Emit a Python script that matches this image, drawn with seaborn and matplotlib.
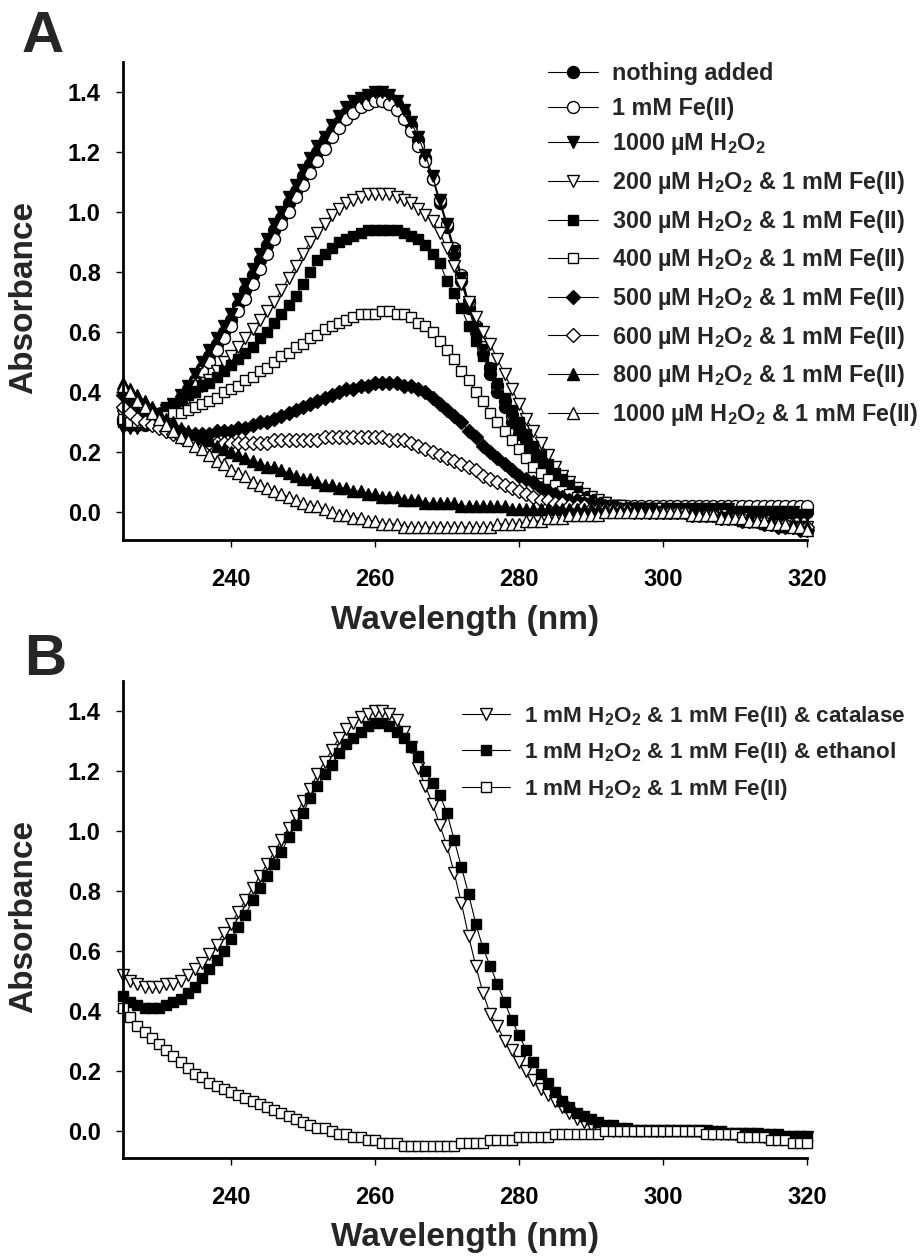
import numpy as np
import pandas as pd
import matplotlib
matplotlib.use("Agg")
import matplotlib.pyplot as plt
import seaborn as sns

# ---------------- data ----------------
wavelength = list(range(225, 321))

# Panel A
nothing_added = [
    0.30, 0.29, 0.29, 0.29, 0.30, 0.31, 0.33, 0.35, 0.38, 0.41,
    0.44, 0.48, 0.52, 0.56, 0.60, 0.64, 0.69, 0.74, 0.79, 0.84,
    0.89, 0.94, 0.98, 1.03, 1.07, 1.12, 1.16, 1.20, 1.24, 1.27,
    1.30, 1.33, 1.35, 1.37, 1.38, 1.39, 1.39, 1.38, 1.36, 1.33,
    1.29, 1.24, 1.18, 1.11, 1.03, 0.95, 0.86, 0.77, 0.68, 0.60,
    0.53, 0.46, 0.40, 0.35, 0.30, 0.26, 0.22, 0.19, 0.16, 0.13,
    0.11, 0.09, 0.07, 0.06, 0.05, 0.04, 0.03, 0.03, 0.02, 0.02,
    0.01, 0.01, 0.01, 0.01, 0.01, 0.01, 0.01, 0.01, 0.01, 0.01,
    0.01, 0.01, 0.01, 0.01, 0.01, 0.01, 0.01, 0.01, 0.01, 0.00,
    0.00, 0.00, 0.00, 0.00, 0.00, 0.00]
fe_1mM = [
    0.31, 0.30, 0.30, 0.30, 0.31, 0.32, 0.33, 0.35, 0.37, 0.40,
    0.43, 0.47, 0.50, 0.54, 0.58, 0.62, 0.67, 0.71, 0.76, 0.81,
    0.86, 0.91, 0.96, 1.00, 1.05, 1.09, 1.13, 1.17, 1.21, 1.25,
    1.28, 1.31, 1.33, 1.35, 1.36, 1.37, 1.37, 1.36, 1.34, 1.31,
    1.27, 1.22, 1.17, 1.11, 1.04, 0.96, 0.88, 0.79, 0.70, 0.62,
    0.55, 0.48, 0.42, 0.37, 0.32, 0.28, 0.24, 0.20, 0.17, 0.14,
    0.12, 0.10, 0.08, 0.06, 0.05, 0.04, 0.03, 0.03, 0.02, 0.02,
    0.02, 0.02, 0.02, 0.02, 0.02, 0.02, 0.02, 0.02, 0.02, 0.02,
    0.02, 0.02, 0.02, 0.02, 0.02, 0.02, 0.02, 0.02, 0.02, 0.02,
    0.02, 0.02, 0.02, 0.02, 0.02, 0.02]
h2o2_1000 = [
    0.28, 0.28, 0.28, 0.29, 0.30, 0.32, 0.34, 0.36, 0.39, 0.42,
    0.46, 0.50, 0.54, 0.58, 0.62, 0.66, 0.71, 0.76, 0.81, 0.86,
    0.91, 0.96, 1.00, 1.05, 1.09, 1.14, 1.18, 1.22, 1.25, 1.29,
    1.32, 1.35, 1.37, 1.38, 1.39, 1.40, 1.40, 1.39, 1.37, 1.34,
    1.30, 1.25, 1.19, 1.12, 1.04, 0.96, 0.87, 0.78, 0.69, 0.61,
    0.54, 0.47, 0.41, 0.35, 0.31, 0.26, 0.22, 0.19, 0.16, 0.13,
    0.11, 0.09, 0.07, 0.06, 0.05, 0.04, 0.03, 0.03, 0.02, 0.02,
    0.01, 0.01, 0.01, 0.01, 0.01, 0.01, 0.01, 0.01, 0.01, 0.01,
    0.01, 0.01, 0.01, 0.01, 0.01, 0.00, 0.00, 0.00, 0.00, 0.00,
    0.00, 0.00, 0.00, 0.00, -0.01, -0.01]
h200_fe = [
    0.32, 0.31, 0.31, 0.31, 0.31, 0.32, 0.33, 0.34, 0.36, 0.38,
    0.40, 0.42, 0.44, 0.47, 0.50, 0.52, 0.55, 0.58, 0.61, 0.64,
    0.67, 0.70, 0.74, 0.78, 0.82, 0.86, 0.90, 0.93, 0.96, 0.99,
    1.01, 1.03, 1.04, 1.05, 1.06, 1.06, 1.06, 1.06, 1.05, 1.04,
    1.03, 1.01, 0.99, 0.97, 0.93, 0.88, 0.82, 0.76, 0.70, 0.65,
    0.60, 0.56, 0.51, 0.46, 0.41, 0.36, 0.31, 0.27, 0.23, 0.19,
    0.15, 0.12, 0.10, 0.08, 0.06, 0.05, 0.04, 0.03, 0.02, 0.02,
    0.01, 0.01, 0.01, 0.01, 0.01, 0.00, 0.00, 0.00, 0.00, 0.00,
    -0.01, -0.01, -0.01, -0.01, -0.02, -0.02, -0.02, -0.03, -0.03, -0.03,
    -0.04, -0.04, -0.04, -0.05, -0.05, -0.05]
h300_fe = [
    0.30, 0.30, 0.30, 0.31, 0.32, 0.33, 0.35, 0.36, 0.37, 0.39,
    0.40, 0.42, 0.43, 0.45, 0.47, 0.49, 0.51, 0.53, 0.55, 0.58,
    0.60, 0.63, 0.66, 0.69, 0.72, 0.76, 0.80, 0.84, 0.86, 0.88,
    0.90, 0.91, 0.92, 0.93, 0.94, 0.94, 0.94, 0.94, 0.94, 0.93,
    0.92, 0.91, 0.89, 0.86, 0.83, 0.77, 0.73, 0.68, 0.62, 0.57,
    0.52, 0.48, 0.43, 0.38, 0.34, 0.30, 0.26, 0.22, 0.19, 0.16,
    0.13, 0.11, 0.09, 0.07, 0.05, 0.04, 0.03, 0.02, 0.02, 0.01,
    0.01, 0.01, 0.01, 0.01, 0.00, 0.00, 0.00, 0.00, 0.00, 0.00,
    -0.01, -0.01, -0.01, -0.02, -0.02, -0.02, -0.03, -0.03, -0.03, -0.04,
    -0.04, -0.04, -0.05, -0.05, -0.05, -0.06]
h400_fe = [
    0.31, 0.30, 0.30, 0.30, 0.31, 0.31, 0.32, 0.33, 0.33, 0.34,
    0.35, 0.36, 0.37, 0.38, 0.40, 0.41, 0.42, 0.44, 0.45, 0.47,
    0.48, 0.50, 0.52, 0.53, 0.55, 0.56, 0.58, 0.59, 0.61, 0.62,
    0.63, 0.64, 0.65, 0.66, 0.66, 0.66, 0.67, 0.67, 0.66, 0.66,
    0.65, 0.63, 0.62, 0.60, 0.57, 0.54, 0.51, 0.47, 0.44, 0.40,
    0.37, 0.33, 0.30, 0.27, 0.24, 0.21, 0.18, 0.15, 0.13, 0.11,
    0.09, 0.07, 0.06, 0.05, 0.04, 0.03, 0.02, 0.02, 0.01, 0.01,
    0.01, 0.01, 0.01, 0.00, 0.00, 0.00, 0.00, 0.00, 0.00, -0.01,
    -0.01, -0.01, -0.01, -0.02, -0.02, -0.02, -0.03, -0.03, -0.03, -0.04,
    -0.04, -0.04, -0.05, -0.05, -0.05, -0.06]
h500_fe = [
    0.39, 0.36, 0.33, 0.31, 0.30, 0.29, 0.28, 0.27, 0.27, 0.26,
    0.26, 0.26, 0.26, 0.27, 0.27, 0.27, 0.28, 0.28, 0.29, 0.30,
    0.30, 0.31, 0.32, 0.33, 0.34, 0.35, 0.36, 0.37, 0.38, 0.39,
    0.40, 0.41, 0.41, 0.42, 0.42, 0.43, 0.43, 0.43, 0.43, 0.42,
    0.42, 0.41, 0.40, 0.38, 0.36, 0.34, 0.32, 0.30, 0.27, 0.25,
    0.22, 0.20, 0.18, 0.16, 0.14, 0.12, 0.11, 0.10, 0.08, 0.07,
    0.06, 0.05, 0.04, 0.04, 0.03, 0.03, 0.02, 0.02, 0.01, 0.01,
    0.01, 0.01, 0.01, 0.00, 0.00, 0.00, 0.00, 0.00, 0.00, -0.01,
    -0.01, -0.01, -0.01, -0.02, -0.02, -0.02, -0.03, -0.03, -0.03, -0.04,
    -0.04, -0.05, -0.05, -0.05, -0.06, -0.06]
h600_fe = [
    0.35, 0.33, 0.31, 0.30, 0.29, 0.28, 0.27, 0.26, 0.25, 0.25,
    0.24, 0.24, 0.23, 0.23, 0.23, 0.23, 0.23, 0.23, 0.23, 0.23,
    0.23, 0.24, 0.24, 0.24, 0.24, 0.24, 0.24, 0.24, 0.25, 0.25,
    0.25, 0.25, 0.25, 0.25, 0.25, 0.25, 0.25, 0.24, 0.24, 0.24,
    0.23, 0.22, 0.21, 0.20, 0.19, 0.18, 0.17, 0.16, 0.15, 0.14,
    0.12, 0.11, 0.10, 0.09, 0.08, 0.07, 0.06, 0.05, 0.04, 0.04,
    0.03, 0.03, 0.02, 0.02, 0.02, 0.01, 0.01, 0.01, 0.01, 0.01,
    0.01, 0.00, 0.00, 0.00, 0.00, 0.00, 0.00, 0.00, 0.00, -0.01,
    -0.01, -0.01, -0.01, -0.02, -0.02, -0.02, -0.02, -0.03, -0.03, -0.03,
    -0.04, -0.04, -0.04, -0.05, -0.05, -0.05]
h800_fe = [
    0.43, 0.41, 0.39, 0.37, 0.35, 0.33, 0.31, 0.30, 0.28, 0.27,
    0.26, 0.25, 0.24, 0.22, 0.21, 0.20, 0.19, 0.18, 0.17, 0.16,
    0.15, 0.15, 0.14, 0.13, 0.12, 0.11, 0.11, 0.10, 0.09, 0.09,
    0.08, 0.08, 0.07, 0.07, 0.06, 0.06, 0.05, 0.05, 0.05, 0.04,
    0.04, 0.04, 0.03, 0.03, 0.03, 0.03, 0.03, 0.02, 0.02, 0.02,
    0.02, 0.02, 0.02, 0.02, 0.01, 0.01, 0.01, 0.01, 0.01, 0.01,
    0.01, 0.01, 0.01, 0.01, 0.01, 0.01, 0.01, 0.01, 0.01, 0.01,
    0.01, 0.01, 0.01, 0.01, 0.01, 0.00, 0.00, 0.00, 0.00, 0.00,
    0.00, -0.01, -0.01, -0.01, -0.01, -0.02, -0.02, -0.02, -0.03, -0.03,
    -0.03, -0.04, -0.04, -0.04, -0.05, -0.05]
h1000_fe = [
    0.42, 0.40, 0.37, 0.35, 0.33, 0.31, 0.29, 0.27, 0.25, 0.24,
    0.22, 0.21, 0.19, 0.17, 0.16, 0.14, 0.13, 0.12, 0.10, 0.09,
    0.08, 0.07, 0.06, 0.05, 0.04, 0.03, 0.02, 0.02, 0.01, 0.00,
    -0.01, -0.01, -0.02, -0.02, -0.03, -0.03, -0.04, -0.04, -0.04, -0.05,
    -0.05, -0.05, -0.05, -0.05, -0.05, -0.05, -0.05, -0.05, -0.05, -0.05,
    -0.05, -0.05, -0.04, -0.04, -0.04, -0.04, -0.03, -0.03, -0.03, -0.02,
    -0.02, -0.02, -0.01, -0.01, -0.01, -0.01, -0.01, 0.00, 0.00, 0.00,
    0.00, 0.00, 0.00, 0.00, 0.00, 0.00, 0.00, 0.00, 0.00, -0.01,
    -0.01, -0.01, -0.01, -0.02, -0.02, -0.02, -0.02, -0.03, -0.03, -0.03,
    -0.04, -0.04, -0.04, -0.05, -0.05, -0.06]

# Panel B
b_catalase = [
    0.52, 0.50, 0.49, 0.48, 0.48, 0.48, 0.49, 0.49, 0.50, 0.52,
    0.54, 0.56, 0.59, 0.62, 0.66, 0.69, 0.73, 0.77, 0.81, 0.85,
    0.89, 0.93, 0.97, 1.01, 1.05, 1.10, 1.14, 1.19, 1.23, 1.27,
    1.31, 1.34, 1.36, 1.38, 1.39, 1.40, 1.40, 1.39, 1.37, 1.33,
    1.28, 1.21, 1.15, 1.09, 1.02, 0.95, 0.86, 0.76, 0.65, 0.55,
    0.46, 0.39, 0.35, 0.30, 0.27, 0.23, 0.20, 0.17, 0.14, 0.12,
    0.10, 0.08, 0.06, 0.04, 0.03, 0.02, 0.01, 0.01, 0.00, 0.00,
    0.00, 0.00, 0.00, 0.00, 0.00, 0.00, 0.00, 0.00, 0.00, 0.00,
    0.00, 0.00, -0.01, -0.01, -0.01, -0.01, -0.01, -0.01, -0.01, -0.02,
    -0.02, -0.02, -0.02, -0.02, -0.02, -0.02]
b_ethanol = [
    0.45, 0.43, 0.42, 0.41, 0.41, 0.41, 0.42, 0.43, 0.44, 0.46,
    0.48, 0.51, 0.54, 0.57, 0.60, 0.64, 0.68, 0.72, 0.77, 0.81,
    0.85, 0.89, 0.93, 0.98, 1.02, 1.06, 1.11, 1.15, 1.19, 1.22,
    1.26, 1.29, 1.31, 1.33, 1.35, 1.36, 1.36, 1.35, 1.33, 1.31,
    1.28, 1.25, 1.20, 1.16, 1.12, 1.06, 0.97, 0.88, 0.79, 0.69,
    0.61, 0.55, 0.49, 0.43, 0.37, 0.32, 0.27, 0.23, 0.19, 0.16,
    0.13, 0.10, 0.08, 0.06, 0.05, 0.04, 0.03, 0.02, 0.02, 0.01,
    0.01, 0.00, 0.00, 0.00, 0.00, 0.00, 0.00, 0.00, 0.00, 0.00,
    0.00, 0.00, 0.00, 0.00, -0.01, -0.01, -0.01, -0.01, -0.01, -0.01,
    -0.01, -0.01, -0.02, -0.02, -0.02, -0.02]
b_h2o2_fe = [
    0.41, 0.38, 0.35, 0.33, 0.31, 0.29, 0.27, 0.25, 0.23, 0.21,
    0.19, 0.18, 0.16, 0.15, 0.14, 0.13, 0.12, 0.11, 0.10, 0.09,
    0.08, 0.07, 0.06, 0.05, 0.04, 0.03, 0.02, 0.01, 0.01, 0.00,
    -0.01, -0.01, -0.02, -0.02, -0.03, -0.03, -0.04, -0.04, -0.04, -0.05,
    -0.05, -0.05, -0.05, -0.05, -0.05, -0.05, -0.05, -0.04, -0.04, -0.04,
    -0.04, -0.03, -0.03, -0.03, -0.03, -0.02, -0.02, -0.02, -0.02, -0.02,
    -0.01, -0.01, -0.01, -0.01, -0.01, -0.01, -0.01, 0.00, 0.00, 0.00,
    0.00, 0.00, 0.00, 0.00, 0.00, 0.00, 0.00, 0.00, 0.00, 0.00,
    0.00, -0.01, -0.01, -0.01, -0.01, -0.01, -0.02, -0.02, -0.02, -0.02,
    -0.03, -0.03, -0.03, -0.04, -0.04, -0.04]

labels_a = [
    "nothing added",
    "1 mM Fe(II)",
    "1000 µM H$_2$O$_2$",
    "200 µM H$_2$O$_2$ & 1 mM Fe(II)",
    "300 µM H$_2$O$_2$ & 1 mM Fe(II)",
    "400 µM H$_2$O$_2$ & 1 mM Fe(II)",
    "500 µM H$_2$O$_2$ & 1 mM Fe(II)",
    "600 µM H$_2$O$_2$ & 1 mM Fe(II)",
    "800 µM H$_2$O$_2$ & 1 mM Fe(II)",
    "1000 µM H$_2$O$_2$ & 1 mM Fe(II)",
]
series_a = [nothing_added, fe_1mM, h2o2_1000, h200_fe, h300_fe,
            h400_fe, h500_fe, h600_fe, h800_fe, h1000_fe]
markers_a = ["o", "o", "v", "v", "s", "s", "D", "D", "^", "^"]
faces_a = ["black", "white", "black", "white", "black", "white",
           "black", "white", "black", "white"]

labels_b = [
    "1 mM H$_2$O$_2$ & 1 mM Fe(II) & catalase",
    "1 mM H$_2$O$_2$ & 1 mM Fe(II) & ethanol",
    "1 mM H$_2$O$_2$ & 1 mM Fe(II)",
]
series_b = [b_catalase, b_ethanol, b_h2o2_fe]
markers_b = ["v", "s", "s"]
faces_b = ["white", "black", "white"]

x_ticks = [240, 260, 280, 300, 320]
y_ticks = [0.0, 0.2, 0.4, 0.6, 0.8, 1.0, 1.2, 1.4]

# ---------------- style ----------------
sns.set_theme(style="ticks")
plt.rcParams["font.family"] = ["Liberation Sans", "DejaVu Sans"]
plt.rcParams["font.weight"] = "bold"
plt.rcParams["mathtext.fontset"] = "custom"
plt.rcParams["mathtext.rm"] = "Liberation Sans:bold"
plt.rcParams["mathtext.bf"] = "Liberation Sans:bold"
plt.rcParams["mathtext.it"] = "Liberation Sans:bold:italic"
plt.rcParams["mathtext.default"] = "rm"

W, H = 921, 1257
fig = plt.figure(figsize=(W / 100, H / 100), dpi=100)


def px_axes(left, top, right, bottom):
    return fig.add_axes([left / W, 1 - bottom / H, (right - left) / W, (bottom - top) / H])


ax_a = px_axes(123, 62, 807, 540)
ax_b = px_axes(123, 681, 807, 1158)

marker_sizes = {"o": 8.6, "v": 9.2, "^": 9.2, "s": 7.6, "D": 7.4}


def draw_panel(ax, series, labels, markers, faces):
    handles = []
    for vals, lab, mk, fc in zip(series, labels, markers, faces):
        df = pd.DataFrame({"wl": wavelength, "abs": vals})
        sns.lineplot(data=df, x="wl", y="abs", ax=ax, color="black",
                     linewidth=0.8, marker=mk, markersize=marker_sizes[mk],
                     markerfacecolor=fc, markeredgecolor="black",
                     markeredgewidth=1.0, label=lab, clip_on=False,
                     legend=False)
        handles.append(ax.lines[-1])
    ax.set_xlim(225, 320)
    ax.set_xticks(x_ticks)
    ax.set_yticks(y_ticks)
    ax.set_yticklabels([f"{v:.1f}" for v in y_ticks])
    for s in ("top", "right"):
        ax.spines[s].set_visible(False)
    for s in ("left", "bottom"):
        ax.spines[s].set_linewidth(2.0)
        ax.spines[s].set_color("black")
    ax.tick_params(axis="both", direction="out", length=5, width=1.0,
                   colors="black", labelsize=17)
    ax.tick_params(axis="x", pad=15)
    ax.tick_params(axis="y", pad=11)
    for lbl in ax.get_xticklabels() + ax.get_yticklabels():
        lbl.set_fontweight("bold")
    ax.set_xlabel("Wavelength (nm)", fontsize=24, fontweight="bold")
    ax.set_ylabel("Absorbance", fontsize=24, fontweight="bold")
    ax.set_facecolor("white")
    return handles


ha = draw_panel(ax_a, series_a, labels_a, markers_a, faces_a)
ax_a.set_ylim(-0.0933, 1.5)
ax_a.xaxis.set_label_coords(0.5, -0.135)
ax_a.yaxis.set_label_coords(-0.122, 0.508)

hb = draw_panel(ax_b, series_b, labels_b, markers_b, faces_b)
ax_b.set_ylim(-0.09, 1.5)
ax_b.xaxis.set_label_coords(0.5, -0.135)
ax_b.yaxis.set_label_coords(-0.122, 0.507)

leg_kw = dict(loc="upper left", frameon=False,
              handlelength=2.15, handletextpad=0.6, labelspacing=0.5,
              borderpad=0, borderaxespad=0)
leg_a = fig.legend(ha, labels_a, bbox_to_anchor=(548 / W, 1 - 62 / H),
                   fontsize=16.8, **leg_kw)
leg_b = fig.legend(hb, labels_b, bbox_to_anchor=(462 / W, 1 - 704 / H),
                   fontsize=16.2, **leg_kw)
for leg in (leg_a, leg_b):
    for t in leg.get_texts():
        t.set_fontweight("bold")

fig.text(22 / W, 1 - 10 / H, "A", fontsize=42, fontweight="bold",
         ha="left", va="top")
fig.text(24 / W, 1 - 633 / H, "B", fontsize=42, fontweight="bold",
         ha="left", va="top")

fig.savefig("out.png", dpi=100, facecolor="white")
